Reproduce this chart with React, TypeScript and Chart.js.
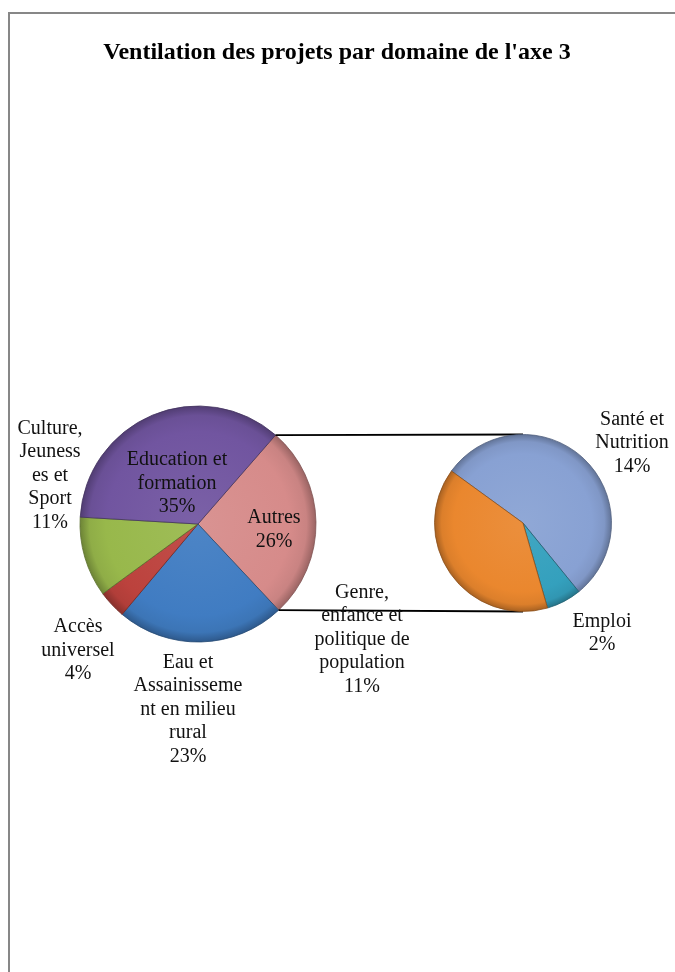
import React, { useEffect, useRef } from "react";
import { Chart, registerables } from "chart.js";

Chart.register(...registerables);

const TITLE = "Ventilation des projets par domaine de l'axe 3";

// Main (left) pie — clockwise starting with the "Autres" slice
const mainCategories = [
  "Autres",
  "Eau et Assainissement en milieu rural",
  "Accès universel",
  "Culture, Jeunesses et Sport",
  "Education et formation",
];
const mainValues = [26.4, 22.9, 3.8, 10.9, 35.2];
const mainLabelLines = [
  ["Autres"],
  ["Eau et", "Assainisseme", "nt en milieu", "rural"],
  ["Accès", "universel"],
  ["Culture,", "Jeuness", "es et", "Sport"],
  ["Education et", "formation"],
];
const mainColors = ["#D68B8A", "#407CC2", "#BC423D", "#98B84B", "#7155A0"];

// Secondary (right) pie — breakdown of "Autres"
const subCategories = [
  "Santé et Nutrition",
  "Emploi",
  "Genre, enfance et politique de population",
];
const subValues = [14.4, 1.7, 10.5];
const subLabelLines = [
  ["Santé et", "Nutrition"],
  ["Emploi"],
  ["Genre,", "enfance et", "politique de", "population"],
];
const subColors = ["#88A1D3", "#34A0BD", "#EA872E"];

const W = 665;
const H = 958;
const FONT = '"Liberation Serif", "Times New Roman", serif';

function shade(hex: string, amt: number) {
  const n = parseInt(hex.slice(1), 16);
  const r = (n >> 16) & 255,
    g = (n >> 8) & 255,
    b = n & 255;
  const f = (c: number) =>
    Math.round(amt >= 0 ? c + (255 - c) * amt : c * (1 + amt));
  return `rgb(${f(r)},${f(g)},${f(b)})`;
}

function bevelFill(colors: string[], radius: number) {
  return (ctx: any) => {
    const chart = ctx.chart;
    const a = chart.chartArea;
    const base = colors[ctx.dataIndex];
    if (!a) return base;
    const cx = (a.left + a.right) / 2;
    const cy = (a.top + a.bottom) / 2;
    const g = chart.ctx.createRadialGradient(cx, cy, 0, cx, cy, radius);
    g.addColorStop(0, shade(base, 0.07));
    g.addColorStop(0.78, base);
    g.addColorStop(0.92, shade(base, -0.06));
    g.addColorStop(1, shade(base, -0.28));
    return g;
  };
}

function makeLabelPlugin(lines: string[][], offsets: number[][]) {
  return {
    id: "sliceLabels",
    afterDatasetsDraw(chart: any) {
      const meta = chart.getDatasetMeta(0);
      const data = chart.data.datasets[0].data as number[];
      const ctx = chart.ctx;
      ctx.save();
      ctx.font = `20px ${FONT}`;
      ctx.fillStyle = "#111";
      ctx.textAlign = "center";
      ctx.textBaseline = "middle";
      const lh = 23.5;
      meta.data.forEach((arc: any, i: number) => {
        const { x, y, outerRadius } = arc.getProps(["x", "y", "outerRadius"], true);
        const [dx, dy] = offsets[i];
        const all = [...lines[i], Math.round(data[i]) + "%"];
        const cx = x + dx * outerRadius;
        const cy = y + dy * outerRadius;
        all.forEach((t, k) => {
          ctx.fillText(t, cx, cy + (k - (all.length - 1) / 2) * lh);
        });
      });
      ctx.restore();
    },
  };
}

const titlePlugin = {
  id: "titleText",
  afterDraw(chart: any) {
    const ctx = chart.ctx;
    ctx.save();
    ctx.font = `bold 24px ${FONT}`;
    ctx.fillStyle = "#000";
    ctx.textAlign = "center";
    ctx.textBaseline = "middle";
    ctx.fillText(TITLE, 327, 39);
    ctx.restore();
  },
};

export default function App() {
  const mainRef = useRef<HTMLCanvasElement>(null);
  const subRef = useRef<HTMLCanvasElement>(null);

  useEffect(() => {
    if (!mainRef.current || !subRef.current) return;
    const mainTotal = mainValues.reduce((s, v) => s + v, 0);
    const mainRadius = 118;
    const subRadius = 88.5;

    const mainChart = new Chart(mainRef.current, {
      type: "pie",
      data: {
        labels: mainCategories,
        datasets: [
          {
            data: mainValues,
            backgroundColor: bevelFill(mainColors, mainRadius),
            borderColor: mainColors.map((c) => shade(c, -0.4)),
            borderWidth: 0.8,
          },
        ],
      },
      options: {
        responsive: false,
        devicePixelRatio: 1,
        animation: false,
        events: [],
        radius: mainRadius,
        rotation: 90 - ((mainValues[0] / mainTotal) * 360) / 2 - 1,
        layout: { padding: { left: 0, right: 289, top: 62, bottom: 0 } },
        plugins: {
          legend: { display: false },
          tooltip: { enabled: false },
          title: { display: false },
        },
      } as any,
      plugins: [
        makeLabelPlugin(mainLabelLines, [
          [0.644, 0.05],
          [-0.085, 1.572],
          [-1.017, 1.07],
          [-1.254, -0.411],
          [-0.178, -0.343],
        ]),
        titlePlugin,
      ],
    });

    const connectorPlugin = {
      id: "connector",
      beforeDatasetsDraw(chart: any) {
        const arc: any = mainChart.getDatasetMeta(0).data[0];
        if (!arc) return;
        const p = arc.getProps(["x", "y", "startAngle", "endAngle", "outerRadius"], true);
        const s: any = chart.getDatasetMeta(0).data[0];
        const q = s.getProps(["x", "y", "outerRadius"], true);
        const ctx = chart.ctx;
        ctx.save();
        ctx.strokeStyle = "#000";
        ctx.lineWidth = 1.8;
        ctx.beginPath();
        ctx.moveTo(p.x + p.outerRadius * Math.cos(p.startAngle), p.y + p.outerRadius * Math.sin(p.startAngle));
        ctx.lineTo(q.x, q.y - q.outerRadius);
        ctx.moveTo(p.x + p.outerRadius * Math.cos(p.endAngle), p.y + p.outerRadius * Math.sin(p.endAngle));
        ctx.lineTo(q.x, q.y + q.outerRadius);
        ctx.stroke();
        ctx.restore();
      },
    };

    const subChart = new Chart(subRef.current, {
      type: "pie",
      data: {
        labels: subCategories,
        datasets: [
          {
            data: subValues,
            backgroundColor: bevelFill(subColors, subRadius),
            borderColor: subColors.map((c) => shade(c, -0.4)),
            borderWidth: 0.8,
          },
        ],
      },
      options: {
        responsive: false,
        devicePixelRatio: 1,
        animation: false,
        events: [],
        radius: subRadius,
        rotation: 306,
        layout: { padding: { left: 361, right: 0, top: 60, bottom: 0 } },
        plugins: {
          legend: { display: false },
          tooltip: { enabled: false },
          title: { display: false },
        },
      } as any,
      plugins: [
        connectorPlugin,
        makeLabelPlugin(subLabelLines, [
          [1.232, -0.904],
          [0.893, 1.243],
          [-1.819, 1.316],
        ]),
      ],
    });

    return () => {
      subChart.destroy();
      mainChart.destroy();
    };
  }, []);

  return (
    <div
      style={{
        position: "absolute",
        left: 8,
        top: 12,
        width: 667,
        height: 960,
        boxSizing: "border-box",
        borderLeft: "2px solid #878787",
        borderTop: "2px solid #878787",
        background: "#fff",
      }}
    >
      <canvas
        ref={mainRef}
        width={W}
        height={H}
        style={{ position: "absolute", left: 0, top: 0, width: W, height: H }}
      />
      <canvas
        ref={subRef}
        width={W}
        height={H}
        style={{ position: "absolute", left: 0, top: 0, width: W, height: H }}
      />
    </div>
  );
}
